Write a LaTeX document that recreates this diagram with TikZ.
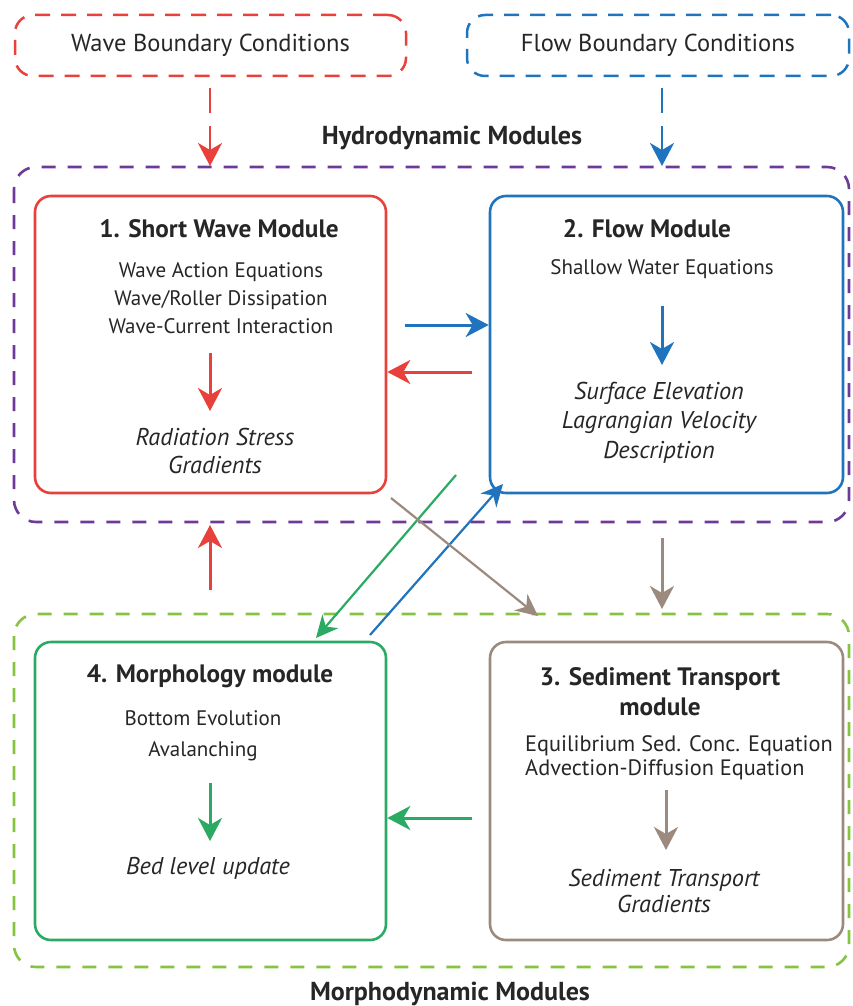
\documentclass[tikz,border=0pt]{standalone}
\usepackage{fontspec}
\setmainfont{PT Sans}
\usetikzlibrary{arrows.meta}
\definecolor{cred}{HTML}{E8403A}
\definecolor{cblue}{HTML}{1F74BD}
\definecolor{cpurple}{HTML}{6E3A98}
\definecolor{cgreen}{HTML}{2AAA62}
\definecolor{clgreen}{HTML}{86C440}
\definecolor{cbrown}{HTML}{9C8A7E}
\definecolor{ctext}{HTML}{262626}
\tikzset{
  every node/.style={text=ctext, font=\fontsize{21}{28}\selectfont},
  bc/.style={draw, dash pattern=on 15pt off 11pt, line width=2.5pt, rounded corners=18pt, font=\fontsize{24.5}{28}\selectfont},
  grp/.style={draw, dash pattern=on 14pt off 12pt, line width=2.6pt, rounded corners=22pt},
  module/.style={draw, line width=2.6pt, rounded corners=16pt},
  ttl/.style={font=\fontsize{25.2}{30}\selectfont\bfseries},
  itl/.style={font=\fontsize{24.3}{28}\selectfont\itshape, align=center},
  bigarrow/.style={line width=3pt, -{Stealth[length=23pt,width=24pt,inset=7pt]}},
  diag/.style={line width=2.2pt, -{Stealth[length=22pt,width=21pt,inset=7pt]}},
}
\begin{document}
\begin{tikzpicture}[x=1pt,y=-1pt]
\useasboundingbox (0,0) rectangle (852,1006);
% boundary condition boxes
\node[bc, draw=cred, minimum width=391pt, minimum height=61pt] (wbc) at (210.5,45.5) {Wave Boundary Conditions};
\node[bc, draw=cblue, minimum width=382pt, minimum height=61pt] (fbc) at (658,45.5) {Flow Boundary Conditions};
% group boxes
\draw[grp, draw=cpurple] (14,167) rectangle (849,522);
\draw[grp, draw=clgreen] (14,614) rectangle (849,967);
\node[ttl, font=\fontsize{26}{30}\selectfont\bfseries] (hyd) at (452,138) {Hydrodynamic Modules};
\node[ttl, font=\fontsize{26}{30}\selectfont\bfseries] (mor) at (450,994) {Morphodynamic Modules};
% modules
\node[module, draw=cred, minimum width=351pt, minimum height=297pt] (m1) at (210.5,344.5) {};
\node[module, draw=cblue, minimum width=353pt, minimum height=297pt] (m2) at (666.5,344.5) {};
\node[module, draw=cgreen, minimum width=351pt, minimum height=298pt] (m4) at (210.5,791) {};
\node[module, draw=cbrown, minimum width=353pt, minimum height=298pt] (m3) at (666.5,791) {};
% module 1 contents
\node[ttl] (t1) at (219,229) {1. Short Wave Module};
\node[align=center, font=\fontsize{21}{28}\selectfont] (e1) at (221,298) {Wave Action Equations\\Wave/Roller Dissipation\\Wave-Current Interaction};
\node[itl] (r1) at (215,451) {Radiation Stress\\Gradients};
\coordinate (a1s) at (210,353);
\coordinate (a1e) at (210,411);
\draw[bigarrow, draw=cred, fill=cred] (a1s) -- (a1e);
% module 2 contents
\node[ttl] (t2) at (647,229) {2. Flow Module};
\node[font=\fontsize{21}{24}\selectfont] (e2) at (662,269) {Shallow Water Equations};
\node[itl, font=\fontsize{24.3}{29.5}\selectfont\itshape] (r2) at (659,422.5) {Surface Elevation\\Lagrangian Velocity\\Description};
\coordinate (a2s) at (662,306);
\coordinate (a2e) at (662,365);
\draw[bigarrow, draw=cblue, fill=cblue] (a2s) -- (a2e);
% module 4 contents
\node[ttl] (t4) at (210,676) {4. Morphology module};
\node[align=center, font=\fontsize{21}{31}\selectfont] (e4) at (203,735.5) {Bottom Evolution\\Avalanching};
\node[itl] (r4) at (208,868) {Bed level update};
\coordinate (a4s) at (210,783);
\coordinate (a4e) at (210,841);
\draw[bigarrow, draw=cgreen, fill=cgreen] (a4s) -- (a4e);
% module 3 contents
\node[ttl, align=center, font=\fontsize{25.2}{30}\selectfont\bfseries] (t3) at (660,692) {3. Sediment Transport\\module};
\node[align=left, anchor=west, inner xsep=0pt, font=\fontsize{22.3}{24}\selectfont] (e3) at (525,758) {Equilibrium Sed. Conc. Equation\\Advection-Diffusion Equation};
\node[itl, font=\fontsize{24.3}{26}\selectfont\itshape] (r3) at (664,891) {Sediment Transport\\Gradients};
\coordinate (a3s) at (666,790);
\coordinate (a3e) at (666,850);
\draw[bigarrow, draw=cbrown, fill=cbrown] (a3s) -- (a3e);
% BC arrows (one dash, then the arrow)
\coordinate (wbs) at (210,88);
\coordinate (wbm) at (210,113);
\coordinate (wbn) at (210,126);
\coordinate (wbe) at (210,166);
\coordinate (fbs) at (662,88);
\coordinate (fbm) at (662,113);
\coordinate (fbn) at (662,126);
\coordinate (fbe) at (662,166);
\draw[line width=2.6pt, draw=cred] (wbs) -- (wbm);
\draw[bigarrow, line width=2.6pt, draw=cred, fill=cred] (wbn) -- (wbe);
\draw[line width=2.6pt, draw=cblue] (fbs) -- (fbm);
\draw[bigarrow, line width=2.6pt, draw=cblue, fill=cblue] (fbn) -- (fbe);
% horizontal arrows between modules
\coordinate (h1s) at (405,325);
\coordinate (h2s) at (472,372);
\coordinate (h3s) at (472,818);
\draw[bigarrow, draw=cblue, fill=cblue] (h1s) -- (m2.west |- h1s);
\draw[bigarrow, draw=cred, fill=cred] (h2s) -- (m1.east |- h2s);
\draw[bigarrow, draw=cgreen, fill=cgreen] (h3s) -- (m4.east |- h3s);
% vertical arrows between groups
\coordinate (v1s) at (210,590);
\coordinate (v1e) at (210,525);
\coordinate (v2s) at (662,538);
\coordinate (v2e) at (662,609);
\draw[bigarrow, draw=cred, fill=cred] (v1s) -- (v1e);
\draw[bigarrow, draw=cbrown, fill=cbrown] (v2s) -- (v2e);
% diagonal arrows
\coordinate (d1s) at (456,475);
\coordinate (d1e) at (316,638);
\coordinate (d2s) at (370,635);
\coordinate (d2e) at (503,484);
\coordinate (d3s) at (391,498);
\coordinate (d3e) at (538,616);
\draw[diag, draw=cgreen, fill=cgreen] (d1s) -- (d1e);
\draw[diag, draw=cblue, fill=cblue] (d2s) -- (d2e);
\draw[diag, draw=cbrown, fill=cbrown] (d3s) -- (d3e);
\end{tikzpicture}
\end{document}
